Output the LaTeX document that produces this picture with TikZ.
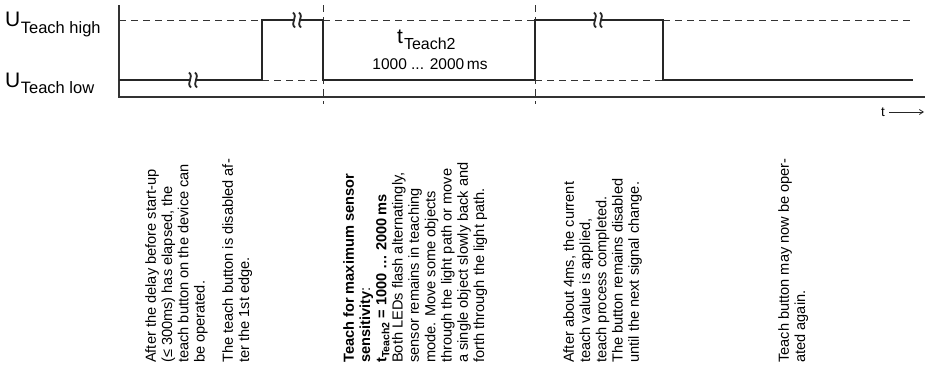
\documentclass[tikz,border=0pt]{standalone}
\usepackage{fontspec}
\setmainfont{Liberation Sans}
\usetikzlibrary{arrows.meta}
\begin{document}
\begin{tikzpicture}[x=1pt,y=-1pt,
  axisline/.style={draw=black!80, line width=1.2pt},
  sig/.style={draw=black!85, line width=2.8pt, line join=miter},
  guide/.style={draw=black!80, line width=0.9pt, dash pattern=on 7pt off 5pt},
  brk/.style={draw=black!85, line width=1.8pt},
  txt/.style={rotate=90, align=left, inner sep=0pt, anchor=north west, font=\fontsize{14.6}{16.3}\selectfont},
  lbl/.style={inner sep=0pt, anchor=base west}]
\useasboundingbox (0,0) rectangle (925,372);
% guides
\draw[guide] (119,20) -- (262,20);
\draw[guide] (323,20) -- (535,20);
\draw[guide] (663,20) -- (913,20);
\draw[guide] (262,80) -- (323,80);
\draw[guide] (535,80) -- (663,80);
\draw[guide] (323,5) -- (323,104);
\draw[guide] (535,5) -- (535,104);
% axes
\draw[axisline] (119,5) -- (119,97) -- (925,97);
% signal
\draw[sig] (119,80) -- (262,80) -- (262,20) -- (323,20) -- (323,80) -- (535,80) -- (535,20) -- (663,20) -- (663,80) -- (913,80);
% breaks
\foreach \bx/\by in {191/80, 295/20, 596/20}{
  \fill[white] (\bx-1.5,\by-3) rectangle (\bx+4.5,\by+3);
  \draw[brk] (\bx-2,\by-7.5) .. controls (\bx+3.5,\by-3) and (\bx-5.5,\by+3) .. (\bx,\by+7.5);
  \draw[brk] (\bx+4,\by-7.5) .. controls (\bx+9.5,\by-3) and (\bx+0.5,\by+3) .. (\bx+6,\by+7.5);
}
% level labels
\node[lbl] (uh) at (5,27) {\fontsize{21}{22}\selectfont U\kern0.5pt\raisebox{-6pt}{\fontsize{16.5}{17}\selectfont Teach high}};
\node[lbl] (ul) at (5,87) {\fontsize{21}{22}\selectfont U\kern0.5pt\raisebox{-6pt}{\fontsize{16.5}{17}\selectfont Teach low}};
\node[lbl] (tt) at (397,43) {\fontsize{21}{22}\selectfont t\kern1pt\raisebox{-6pt}{\fontsize{16}{17}\selectfont Teach2}};
\node[inner sep=0pt, anchor=base] (tr) at (430,69) {\fontsize{15.5}{16}\selectfont 1000 ... 2000\,ms};
% time arrow
\node[inner sep=0pt, anchor=center] (t) at (883,112) {\fontsize{13.5}{14}\selectfont t};
\coordinate (tend) at (924,112);
\draw[black!85, line width=0.8pt, -{Straight Barb[length=4pt,width=5pt]}] ([xshift=4pt]t.east) -- (tend);
% texts
\node[txt] (b1) at (145,363) {After the delay before start-up\\(≤ 300ms) has elapsed, the\\teach button on the device can\\be operated.};
\node[txt] (b2) at (222,363) {The teach button is disabled af-\\ter the 1st edge.};
\node[txt] (b3) at (343,363) {\textbf{Teach for maximum sensor}\\\textbf{sensitivity}:\\\textbf{t\raisebox{-3pt}{\fontsize{10.5}{11}\selectfont Teach2} = 1000 \dots\ 2000\,ms}\\Both LEDs flash alternatingly,\\sensor remains in teaching\\mode. Move some objects\\through the light path or move\\a single object slowly back and\\forth through the light path.};
\node[txt] (b4) at (563,363) {After about 4ms,\ the current\\teach value is applied,\\teach process completed.\\The button remains disabled\\until the next signal change.};
\node[txt] (b5) at (778,363) {Teach button may now be oper-\\ated again.};
\end{tikzpicture}
\end{document}
